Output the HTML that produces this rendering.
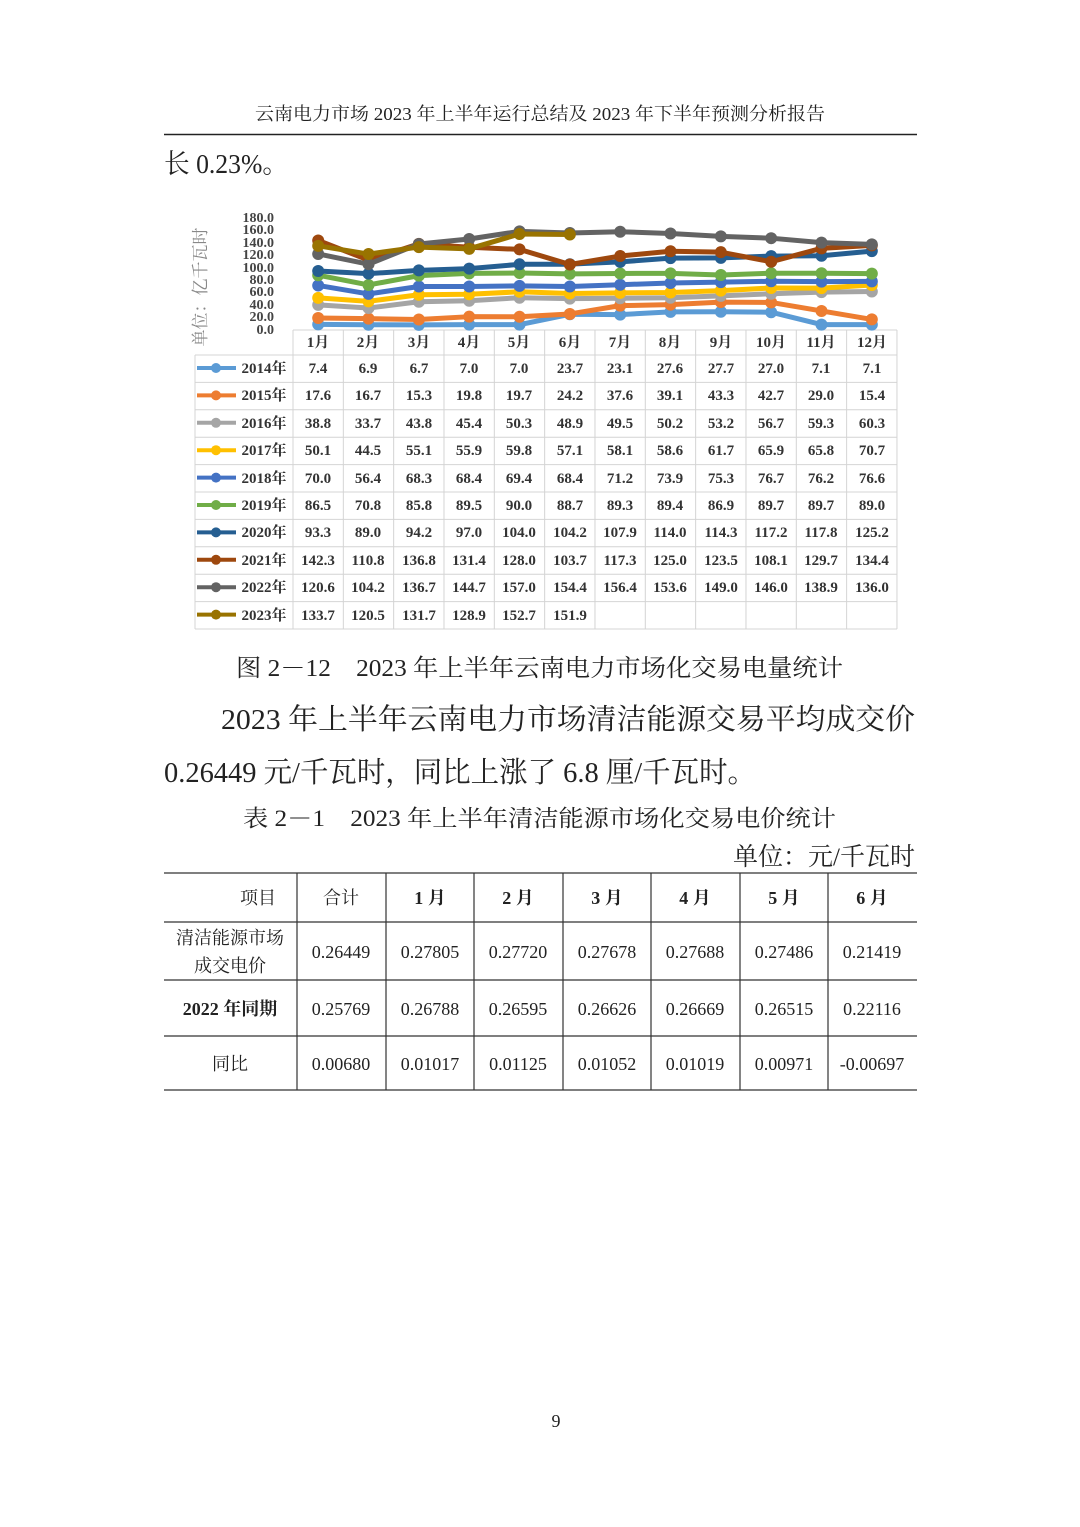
<!DOCTYPE html>
<html><head><meta charset="utf-8"><style>
html,body{margin:0;padding:0;background:#fff;}
svg{display:block;}
.s{font-family:"Liberation Serif","Noto Serif CJK SC",serif;fill:#222;}
.t{font-family:"Liberation Serif","Noto Serif CJK SC",serif;font-size:15px;font-weight:bold;fill:#333;text-anchor:middle;}
.y{font-family:"Liberation Serif",serif;font-size:14px;font-weight:bold;fill:#444;text-anchor:end;}
.m{font-family:"Liberation Serif","Noto Serif CJK SC",serif;font-size:18px;fill:#222;text-anchor:middle;}
</style></head><body>
<svg id="p" width="1080" height="1527" viewBox="0 0 1080 1527" xmlns="http://www.w3.org/2000/svg">
<rect width="1080" height="1527" fill="#fff"/>
<text class="s" x="255" y="120" font-size="18" textLength="570" lengthAdjust="spacingAndGlyphs">云南电力市场 2023 年上半年运行总结及 2023 年下半年预测分析报告</text>
<line x1="164" y1="134.5" x2="917" y2="134.5" stroke="#222" stroke-width="1.5"/>
<text class="s" x="164" y="173" font-size="27" textLength="124" lengthAdjust="spacingAndGlyphs">长 0.23%。</text>

<!-- chart -->
<text class="s" transform="translate(206,287) rotate(-90)" font-size="17" style="fill:#888" text-anchor="middle">单位：亿千瓦时</text>
<text class="y" x="274" y="222">180.0</text>
<text class="y" x="274" y="234">160.0</text>
<text class="y" x="274" y="247">140.0</text>
<text class="y" x="274" y="259">120.0</text>
<text class="y" x="274" y="272">100.0</text>
<text class="y" x="274" y="284">80.0</text>
<text class="y" x="274" y="296">60.0</text>
<text class="y" x="274" y="309">40.0</text>
<text class="y" x="274" y="321">20.0</text>
<text class="y" x="274" y="334">0.0</text>
<g id="grid"></g>
<g id="lines"></g>
<g id="leg"></g>

<g>
<text class="t" x="318" y="347">1月</text><text class="t" x="368" y="347">2月</text><text class="t" x="419" y="347">3月</text><text class="t" x="469" y="347">4月</text><text class="t" x="519" y="347">5月</text><text class="t" x="570" y="347">6月</text><text class="t" x="620" y="347">7月</text><text class="t" x="670" y="347">8月</text><text class="t" x="721" y="347">9月</text><text class="t" x="771" y="347">10月</text><text class="t" x="821" y="347">11月</text><text class="t" x="872" y="347">12月</text>
</g>
<g id="rows">
<text class="t" x="264" y="373">2014年</text>
<text class="t" x="264" y="400">2015年</text>
<text class="t" x="264" y="428">2016年</text>
<text class="t" x="264" y="455">2017年</text>
<text class="t" x="264" y="483">2018年</text>
<text class="t" x="264" y="510">2019年</text>
<text class="t" x="264" y="537">2020年</text>
<text class="t" x="264" y="565">2021年</text>
<text class="t" x="264" y="592">2022年</text>
<text class="t" x="264" y="620">2023年</text>
<text class="t" x="318" y="373">7.4</text><text class="t" x="368" y="373">6.9</text><text class="t" x="419" y="373">6.7</text><text class="t" x="469" y="373">7.0</text><text class="t" x="519" y="373">7.0</text><text class="t" x="570" y="373">23.7</text><text class="t" x="620" y="373">23.1</text><text class="t" x="670" y="373">27.6</text><text class="t" x="721" y="373">27.7</text><text class="t" x="771" y="373">27.0</text><text class="t" x="821" y="373">7.1</text><text class="t" x="872" y="373">7.1</text>
<text class="t" x="318" y="400">17.6</text><text class="t" x="368" y="400">16.7</text><text class="t" x="419" y="400">15.3</text><text class="t" x="469" y="400">19.8</text><text class="t" x="519" y="400">19.7</text><text class="t" x="570" y="400">24.2</text><text class="t" x="620" y="400">37.6</text><text class="t" x="670" y="400">39.1</text><text class="t" x="721" y="400">43.3</text><text class="t" x="771" y="400">42.7</text><text class="t" x="821" y="400">29.0</text><text class="t" x="872" y="400">15.4</text>
<text class="t" x="318" y="428">38.8</text><text class="t" x="368" y="428">33.7</text><text class="t" x="419" y="428">43.8</text><text class="t" x="469" y="428">45.4</text><text class="t" x="519" y="428">50.3</text><text class="t" x="570" y="428">48.9</text><text class="t" x="620" y="428">49.5</text><text class="t" x="670" y="428">50.2</text><text class="t" x="721" y="428">53.2</text><text class="t" x="771" y="428">56.7</text><text class="t" x="821" y="428">59.3</text><text class="t" x="872" y="428">60.3</text>
<text class="t" x="318" y="455">50.1</text><text class="t" x="368" y="455">44.5</text><text class="t" x="419" y="455">55.1</text><text class="t" x="469" y="455">55.9</text><text class="t" x="519" y="455">59.8</text><text class="t" x="570" y="455">57.1</text><text class="t" x="620" y="455">58.1</text><text class="t" x="670" y="455">58.6</text><text class="t" x="721" y="455">61.7</text><text class="t" x="771" y="455">65.9</text><text class="t" x="821" y="455">65.8</text><text class="t" x="872" y="455">70.7</text>
<text class="t" x="318" y="483">70.0</text><text class="t" x="368" y="483">56.4</text><text class="t" x="419" y="483">68.3</text><text class="t" x="469" y="483">68.4</text><text class="t" x="519" y="483">69.4</text><text class="t" x="570" y="483">68.4</text><text class="t" x="620" y="483">71.2</text><text class="t" x="670" y="483">73.9</text><text class="t" x="721" y="483">75.3</text><text class="t" x="771" y="483">76.7</text><text class="t" x="821" y="483">76.2</text><text class="t" x="872" y="483">76.6</text>
<text class="t" x="318" y="510">86.5</text><text class="t" x="368" y="510">70.8</text><text class="t" x="419" y="510">85.8</text><text class="t" x="469" y="510">89.5</text><text class="t" x="519" y="510">90.0</text><text class="t" x="570" y="510">88.7</text><text class="t" x="620" y="510">89.3</text><text class="t" x="670" y="510">89.4</text><text class="t" x="721" y="510">86.9</text><text class="t" x="771" y="510">89.7</text><text class="t" x="821" y="510">89.7</text><text class="t" x="872" y="510">89.0</text>
<text class="t" x="318" y="537">93.3</text><text class="t" x="368" y="537">89.0</text><text class="t" x="419" y="537">94.2</text><text class="t" x="469" y="537">97.0</text><text class="t" x="519" y="537">104.0</text><text class="t" x="570" y="537">104.2</text><text class="t" x="620" y="537">107.9</text><text class="t" x="670" y="537">114.0</text><text class="t" x="721" y="537">114.3</text><text class="t" x="771" y="537">117.2</text><text class="t" x="821" y="537">117.8</text><text class="t" x="872" y="537">125.2</text>
<text class="t" x="318" y="565">142.3</text><text class="t" x="368" y="565">110.8</text><text class="t" x="419" y="565">136.8</text><text class="t" x="469" y="565">131.4</text><text class="t" x="519" y="565">128.0</text><text class="t" x="570" y="565">103.7</text><text class="t" x="620" y="565">117.3</text><text class="t" x="670" y="565">125.0</text><text class="t" x="721" y="565">123.5</text><text class="t" x="771" y="565">108.1</text><text class="t" x="821" y="565">129.7</text><text class="t" x="872" y="565">134.4</text>
<text class="t" x="318" y="592">120.6</text><text class="t" x="368" y="592">104.2</text><text class="t" x="419" y="592">136.7</text><text class="t" x="469" y="592">144.7</text><text class="t" x="519" y="592">157.0</text><text class="t" x="570" y="592">154.4</text><text class="t" x="620" y="592">156.4</text><text class="t" x="670" y="592">153.6</text><text class="t" x="721" y="592">149.0</text><text class="t" x="771" y="592">146.0</text><text class="t" x="821" y="592">138.9</text><text class="t" x="872" y="592">136.0</text>
<text class="t" x="318" y="620">133.7</text><text class="t" x="368" y="620">120.5</text><text class="t" x="419" y="620">131.7</text><text class="t" x="469" y="620">128.9</text><text class="t" x="519" y="620">152.7</text><text class="t" x="570" y="620">151.9</text>
</g>

<text class="s" x="236" y="676" font-size="24" textLength="607" lengthAdjust="spacingAndGlyphs">图 2－12　2023 年上半年云南电力市场化交易电量统计</text>
<text class="s" x="221" y="729" font-size="29" textLength="694" lengthAdjust="spacingAndGlyphs">2023 年上半年云南电力市场清洁能源交易平均成交价</text>
<text class="s" x="164" y="782" font-size="29" textLength="592" lengthAdjust="spacingAndGlyphs">0.26449 元/千瓦时，同比上涨了 6.8 厘/千瓦时。</text>
<text class="s" x="243" y="826" font-size="23" textLength="593" lengthAdjust="spacingAndGlyphs">表 2－1　2023 年上半年清洁能源市场化交易电价统计</text>
<text class="s" x="733" y="865" font-size="25" textLength="182" lengthAdjust="spacingAndGlyphs">单位：元/千瓦时</text>

<g stroke="#333" stroke-width="1.2">
<line x1="164" y1="873" x2="917" y2="873"/>
<line x1="164" y1="922" x2="917" y2="922"/>
<line x1="164" y1="980" x2="917" y2="980"/>
<line x1="164" y1="1036" x2="917" y2="1036"/>
<line x1="164" y1="1090" x2="917" y2="1090"/>
<line x1="297" y1="873" x2="297" y2="1090"/>
<line x1="386" y1="873" x2="386" y2="1090"/>
<line x1="474" y1="873" x2="474" y2="1090"/>
<line x1="563" y1="873" x2="563" y2="1090"/>
<line x1="651" y1="873" x2="651" y2="1090"/>
<line x1="740" y1="873" x2="740" y2="1090"/>
<line x1="828" y1="873" x2="828" y2="1090"/>
</g>
<g>
<text class="m" x="258" y="904">项目</text><text class="m" x="341" y="904">合计</text>
<text class="m" x="430" y="904" font-weight="bold">1 月</text><text class="m" x="518" y="904" font-weight="bold">2 月</text><text class="m" x="607" y="904" font-weight="bold">3 月</text><text class="m" x="695" y="904" font-weight="bold">4 月</text><text class="m" x="784" y="904" font-weight="bold">5 月</text><text class="m" x="872" y="904" font-weight="bold">6 月</text>
<text class="m" x="230" y="944">清洁能源市场</text><text class="m" x="230" y="972">成交电价</text>
<text class="m" x="341" y="958">0.26449</text><text class="m" x="430" y="958">0.27805</text><text class="m" x="518" y="958">0.27720</text><text class="m" x="607" y="958">0.27678</text><text class="m" x="695" y="958">0.27688</text><text class="m" x="784" y="958">0.27486</text><text class="m" x="872" y="958">0.21419</text>
<text class="m" x="230" y="1015" font-weight="bold">2022 年同期</text>
<text class="m" x="341" y="1015">0.25769</text><text class="m" x="430" y="1015">0.26788</text><text class="m" x="518" y="1015">0.26595</text><text class="m" x="607" y="1015">0.26626</text><text class="m" x="695" y="1015">0.26669</text><text class="m" x="784" y="1015">0.26515</text><text class="m" x="872" y="1015">0.22116</text>
<text class="m" x="230" y="1070">同比</text>
<text class="m" x="341" y="1070">0.00680</text><text class="m" x="430" y="1070">0.01017</text><text class="m" x="518" y="1070">0.01125</text><text class="m" x="607" y="1070">0.01052</text><text class="m" x="695" y="1070">0.01019</text><text class="m" x="784" y="1070">0.00971</text><text class="m" x="872" y="1070">-0.00697</text>
</g>
<text class="m" x="556" y="1427">9</text>
</svg>
<script>
var NS="http://www.w3.org/2000/svg";
function el(p,t,a){var e=document.createElementNS(NS,t);for(var k in a)e.setAttribute(k,a[k]);p.appendChild(e);return e;}
var g=document.getElementById('grid');
var gs={stroke:"#d4d4d4","stroke-width":1};
el(g,'line',Object.assign({x1:293,y1:330,x2:897,y2:330},gs));
for(var i=0;i<=10;i++){var y=355+i*27.4;el(g,'line',Object.assign({x1:195,y1:y,x2:897,y2:y},gs));}
el(g,'line',Object.assign({x1:195,y1:355,x2:195,y2:629},gs));
for(var j=0;j<=12;j++){var x=293+j*50.33;el(g,'line',Object.assign({x1:x,y1:330,x2:x,y2:629},gs));}
var data=[
[7.4,6.9,6.7,7.0,7.0,23.7,23.1,27.6,27.7,27.0,7.1,7.1],
[17.6,16.7,15.3,19.8,19.7,24.2,37.6,39.1,43.3,42.7,29.0,15.4],
[38.8,33.7,43.8,45.4,50.3,48.9,49.5,50.2,53.2,56.7,59.3,60.3],
[50.1,44.5,55.1,55.9,59.8,57.1,58.1,58.6,61.7,65.9,65.8,70.7],
[70.0,56.4,68.3,68.4,69.4,68.4,71.2,73.9,75.3,76.7,76.2,76.6],
[86.5,70.8,85.8,89.5,90.0,88.7,89.3,89.4,86.9,89.7,89.7,89.0],
[93.3,89.0,94.2,97.0,104.0,104.2,107.9,114.0,114.3,117.2,117.8,125.2],
[142.3,110.8,136.8,131.4,128.0,103.7,117.3,125.0,123.5,108.1,129.7,134.4],
[120.6,104.2,136.7,144.7,157.0,154.4,156.4,153.6,149.0,146.0,138.9,136.0],
[133.7,120.5,131.7,128.9,152.7,151.9]];
var cols=["#5B9BD5","#ED7D31","#A5A5A5","#FFC000","#4472C4","#70AD47","#255E91","#9E480E","#636363","#997300"];
var L=document.getElementById('lines'),G=document.getElementById('leg');
for(var s=0;s<data.length;s++){
 var pts=data[s].map(function(v,i){return [318.2+i*50.33,329-v*0.622];});
 el(L,'polyline',{points:pts.map(function(p){return p.join(',')}).join(' '),fill:'none',stroke:cols[s],'stroke-width':5,'stroke-linejoin':'round'});
 pts.forEach(function(p){el(L,'circle',{cx:p[0],cy:p[1],r:6,fill:cols[s]});});
 var ly=368+s*27.4;
 el(G,'line',{x1:197,y1:ly,x2:236,y2:ly,stroke:cols[s],'stroke-width':4});
 el(G,'circle',{cx:216,cy:ly,r:5,fill:cols[s]});
}
</script>
</body></html>
